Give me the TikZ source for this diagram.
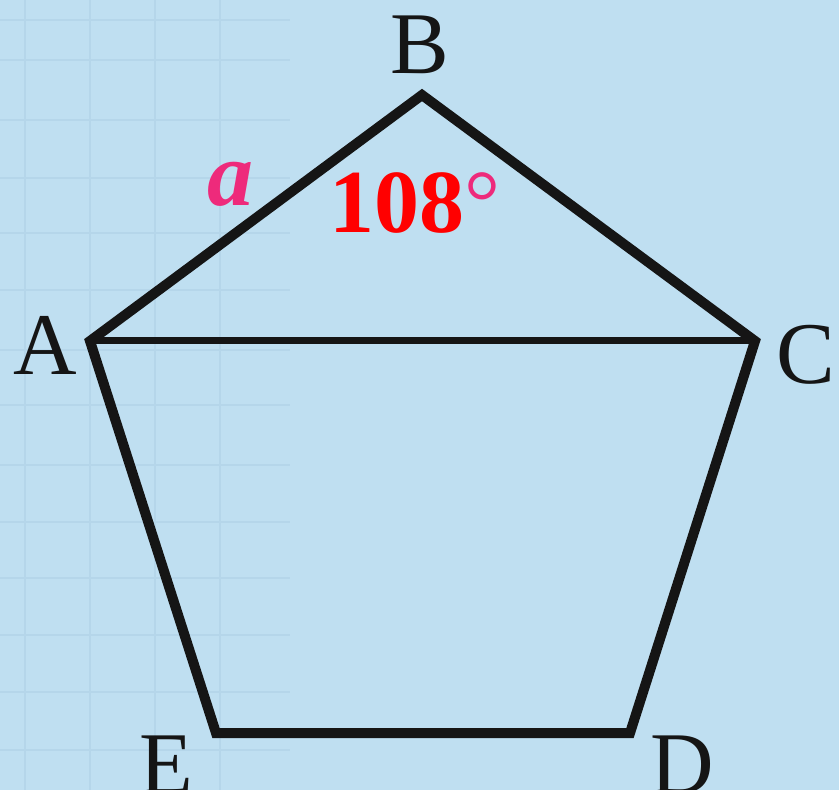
\documentclass[tikz,border=0pt]{standalone}
\usepackage{fontspec}
\newfontfamily\labelfont{Liberation Serif}
\definecolor{paper}{HTML}{BFDFF1}
\definecolor{gridblue}{HTML}{B5D6EA}
\definecolor{pinkmark}{HTML}{EE2A7B}
\definecolor{ink}{HTML}{151515}
\tikzset{
    pentaside/.style={draw=ink, line width=5pt, line join=miter},
    vlabel/.style={text=ink, font=\labelfont\fontsize{44}{44}\selectfont, inner sep=0pt},
    redlabel/.style={text=red, font=\labelfont\fontsize{45}{45}\selectfont\bfseries, inner sep=0pt},
    pinklabel/.style={text=pinkmark, font=\labelfont\fontsize{46}{46}\selectfont\bfseries\itshape, inner sep=0pt}
}
\begin{document}
\begin{tikzpicture}[x=0.5pt, y=-0.5pt]
        \fill[paper] (0,0) rectangle (839,790);
        \useasboundingbox (0,0) rectangle (839,790);
        \foreach \x in {25,90,155,220} {
            \draw[gridblue, line width=1pt] (\x,0) -- (\x,790);
        }
        \foreach \y in {20,60,120,178,233,290,350,405,465,522,578,635,692,750} {
            \draw[gridblue, line width=1pt] (0,\y) -- (290,\y);
        }
        \coordinate (A) at (90,341);
        \coordinate (B) at (422,95);
        \coordinate (C) at (755,341);
        \coordinate (D) at (630,733);
        \coordinate (E) at (216,733);
        \draw[pentaside] (A) -- (B) -- (C) -- (D) -- (E) -- cycle;
        \draw[draw=ink, line width=3.5pt] (A) -- (C);
        \node[vlabel] (labA) at (45,345) {A};
        \node[vlabel] (labB) at (420,45) {B};
        \node[vlabel] (labC) at (806,355) {C};
        \node[vlabel] (labD) at (682,765) {D};
        \node[vlabel] (labE) at (166,765) {E};
        \node[pinklabel] (labSide) at (230,184) {a};
        \node[redlabel] (labAngle) at (415,203) {108\textcolor{pinkmark}{\mdseries °}};
    \end{tikzpicture}
\end{document}
